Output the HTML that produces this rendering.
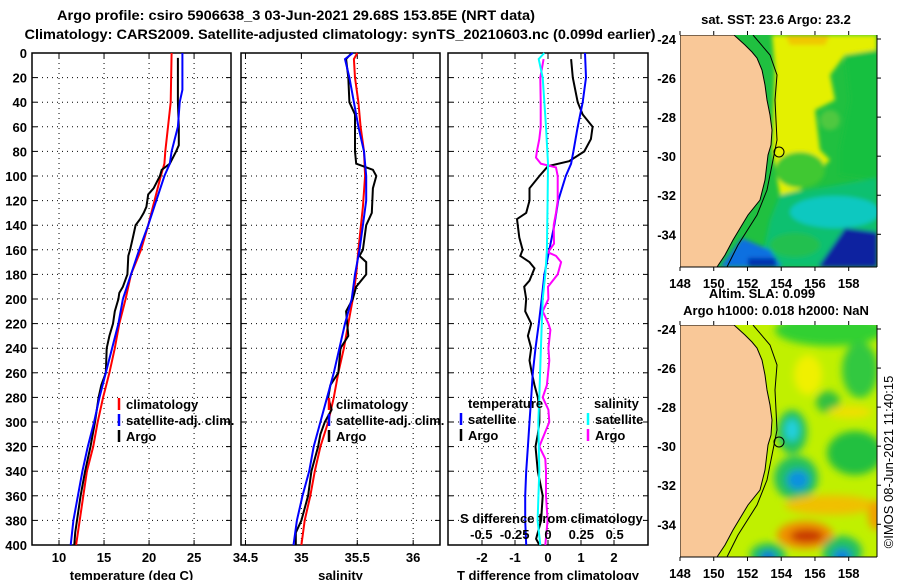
<!DOCTYPE html>
<html><head><meta charset="utf-8">
<style>
html,body{margin:0;padding:0;background:#fff;}
svg{display:block;font-family:"Liberation Sans",Arial,sans-serif;font-weight:bold;}
</style></head>
<body>
<svg id="fig" width="900" height="580" viewBox="0 0 900 580" xmlns="http://www.w3.org/2000/svg">
<defs>
<filter id="blur6" x="-30%" y="-30%" width="160%" height="160%"><feGaussianBlur stdDeviation="4"/></filter>
<filter id="blur3" x="-20%" y="-20%" width="140%" height="140%"><feGaussianBlur stdDeviation="2"/></filter>
<clipPath id="clipTop"><rect x="680" y="35" width="197" height="232"/></clipPath>
<clipPath id="clipBot"><rect x="680" y="325" width="197" height="232"/></clipPath>
</defs>
<text x="296" y="20" text-anchor="middle" font-size="14" textLength="478" lengthAdjust="spacingAndGlyphs">Argo profile: csiro 5906638_3 03-Jun-2021 29.68S 153.85E (NRT data)</text>
<text x="340" y="39" text-anchor="middle" font-size="14" textLength="631" lengthAdjust="spacingAndGlyphs">Climatology: CARS2009. Satellite-adjusted climatology: synTS_20210603.nc (0.099d earlier)</text>
<g id="charts"></g>
<g id="maps"></g>
</svg>
<script>
// ---------- data ----------
const depthTicks = [0,20,40,60,80,100,120,140,160,180,200,220,240,260,280,300,320,340,360,380,400];
const tTicks = [10,15,20,25];
const sTicks = [34.5,35,35.5,36];
const dTicks = [-2,-1,0,1,2];
const sdTicks = [-0.5,-0.25,0,0.25,0.5];
const sdTickLabels = ["-0.5","-0.25","0","0.25","0.5"];

const tClimDepth = [0,40,60,80,90,100,120,140,160,180,200,220,240,260,280,300,320,340,360,380,400];
const tClim = [22.5,22.4,22.1,21.8,21.7,21.3,20.6,19.9,19.1,18.0,17.4,16.7,16.2,15.6,14.9,14.3,13.8,13.1,12.7,12.3,11.9];
const tSatDepth = [0,30,40,60,80,90,100,120,140,160,180,200,220,240,260,280,300,320,340,360,380,400];
const tSat = [23.7,23.7,23.4,23.2,22.5,22.3,21.7,20.8,19.9,18.9,18.0,17.1,16.6,15.9,15.2,14.5,13.9,13.2,12.6,12.1,11.6,11.3];
const argoDepth = [4,40,60,75,80,90,95,100,110,115,125,130,135,140,150,160,165,180,190,195,200,210,220,230,240,260,270,280,300,320,340,360,380,390,400];
const tArgo = [23.2,23.2,23.3,23.3,23.0,22.3,21.4,21.2,20.5,19.9,19.7,19.4,19.0,18.5,18.2,17.9,17.7,17.6,17.1,16.7,16.6,16.2,16.0,15.6,15.3,15.2,14.7,14.4,14.0,13.5,12.9,12.4,12.0,11.8,11.7];

const sClimDepth = [0,5,20,40,60,80,100,125,160,180,200,220,240,260,280,300,320,340,360,380,400];
const sClim = [35.50,35.47,35.48,35.51,35.53,35.56,35.57,35.55,35.51,35.49,35.46,35.42,35.38,35.33,35.29,35.24,35.17,35.12,35.08,35.03,35.00];
const sSatDepth = [0,5,20,40,60,80,100,120,140,160,180,200,220,240,260,280,300,320,340,360,380,400];
const sSat = [35.46,35.39,35.43,35.47,35.51,35.56,35.58,35.58,35.55,35.52,35.48,35.45,35.39,35.34,35.29,35.23,35.17,35.11,35.07,35.01,34.96,34.93];
const sArgoDepth = [0,5,20,40,50,80,90,95,100,110,130,140,160,165,170,180,190,200,210,230,240,260,270,280,290,300,310,320,340,360,380,390,400];
const sArgo = [35.45,35.40,35.42,35.43,35.48,35.48,35.49,35.64,35.67,35.64,35.63,35.58,35.55,35.52,35.58,35.58,35.49,35.46,35.40,35.42,35.35,35.33,35.26,35.24,35.27,35.21,35.17,35.15,35.09,35.06,35.00,34.95,34.95];

const dtSatDepth = [0,20,40,60,80,90,100,120,140,160,180,200,220,240,260,280,300,320,340,360,380,400];
const dtSat = [1.12,1.15,1.05,0.9,0.77,0.7,0.54,0.31,0.19,0.04,-0.11,-0.19,-0.28,-0.38,-0.46,-0.51,-0.56,-0.61,-0.66,-0.69,-0.69,-0.66];
const dtArgoDepth = [5,20,40,50,60,70,80,88,92,100,110,120,130,135,150,160,165,170,175,185,190,200,210,220,230,240,250,260,270,280,290,300,310,320,340,360,380,395,400];
const dtArgo = [0.7,0.75,0.9,1.05,1.35,1.3,1.1,0.64,0,-0.26,-0.56,-0.56,-0.66,-0.94,-0.87,-0.77,-0.84,-0.56,-0.41,-0.56,-0.72,-0.66,-0.69,-0.51,-0.61,-0.51,-0.56,-0.49,-0.41,-0.31,-0.26,-0.26,-0.31,-0.38,-0.31,-0.16,-0.21,-0.36,-0.26];
const dsSatDepth = [0,5,20,60,90,120,160,180,200,240,280,300,340,380,400];
const dsSat = [-0.028,-0.07,-0.04,-0.015,0,-0.003,-0.008,-0.02,-0.04,-0.053,-0.065,-0.073,-0.065,-0.078,-0.058];
const dsArgoDepth = [5,20,40,60,70,80,85,90,93,100,120,130,140,155,162,165,170,180,190,200,210,220,225,240,250,270,280,290,300,310,320,330,340,360,380,400];
const dsArgo = [-0.033,-0.058,-0.055,-0.055,-0.065,-0.083,-0.09,-0.053,0.06,0.073,0.073,0.06,0.043,0.045,0,0.06,0.098,0.073,0,0.003,-0.04,0.003,0.018,0.003,0.01,-0.008,-0.04,0.003,0.01,-0.028,-0.065,-0.02,-0.015,-0.015,-0.003,-0.02];

// ---------- helpers ----------
const NS = "http://www.w3.org/2000/svg";
const charts = document.getElementById('charts');
function mk(tag, attrs, parent){const e=document.createElementNS(NS,tag);for(const k in attrs)e.setAttribute(k,attrs[k]);(parent||charts).appendChild(e);return e;}
const Y0=53, Y1=545;
const yD = d => Y0 + (d/400)*(Y1-Y0);
function lin(d0,d1,r0,r1){return v=>r0+(v-d0)/(d1-d0)*(r1-r0);}

const panels = [
 {x0:32,x1:231,dom:[7,29.1],ticks:tTicks,labels:tTicks.map(String),title:"temperature (deg C)",name:"temperature"},
 {x0:241,x1:440,dom:[34.46,36.24],ticks:sTicks,labels:["34.5","35","35.5","36"],title:"salinity",name:"salinity"},
 {x0:448,x1:648,dom:[-3.03,3.03],ticks:dTicks,labels:dTicks.map(String),title:"T difference from climatology",name:"difference"}
];
panels.forEach((p,i)=>{
 p.sx = lin(p.dom[0],p.dom[1],p.x0,p.x1);
 const g = mk('g',{});
 
 
 depthTicks.forEach(d=>{ if(d>0&&d<400){const l=mk('line',{x1:p.x0,x2:p.x1,y1:yD(d),y2:yD(d),stroke:'#000','stroke-width':1,'stroke-dasharray':'1,4'},g);
   }
   mk('line',{x1:p.x0,x2:p.x0+5,y1:yD(d),y2:yD(d),stroke:'#000'},g);
   mk('line',{x1:p.x1-5,x2:p.x1,y1:yD(d),y2:yD(d),stroke:'#000'},g);
 });
 p.ticks.forEach((t,j)=>{const x=p.sx(t);
   const l=mk('line',{x1:x,x2:x,y1:Y0,y2:Y1,stroke:'#000','stroke-width':1,'stroke-dasharray':'1,4'},g);
   
   mk('line',{x1:x,x2:x,y1:Y0,y2:Y0+5,stroke:'#000'},g);
   mk('line',{x1:x,x2:x,y1:Y1-5,y2:Y1,stroke:'#000'},g);
   const tx=mk('text',{x:x,y:562,'text-anchor':'middle','font-size':13},g);tx.textContent=p.labels[j];
   
 });
 const fr=mk('rect',{x:p.x0,y:Y0,width:p.x1-p.x0,height:Y1-Y0,fill:'none',stroke:'#000','stroke-width':1.5},g);
 
 const at=mk('text',{x:(p.x0+p.x1)/2,y:580,'text-anchor':'middle','font-size':13},g);at.textContent=p.title;
 
});
depthTicks.forEach(d=>{const t=mk('text',{x:27,y:yD(d)+5,'text-anchor':'end','font-size':13});t.textContent=String(d);
 });

function series(p,depths,vals,color,name,xf){
 const f = xf||p.sx;
 const pts = depths.map((d,i)=>f(vals[i]).toFixed(1)+','+yD(d).toFixed(1)).join(' ');
 const pl = mk('polyline',{points:pts,fill:'none',stroke:color,'stroke-width':2,'stroke-linejoin':'miter'});
 
 
}
const P1=panels[0],P2=panels[1],P3=panels[2];
series(P1,tClimDepth,tClim,'#f00','temp-climatology-line');
series(P1,argoDepth,tArgo,'#000','temp-argo-line');
series(P1,tSatDepth,tSat,'#00f','temp-satellite-line');
series(P2,sClimDepth,sClim,'#f00','sal-climatology-line');
series(P2,sArgoDepth,sArgo,'#000','sal-argo-line');
series(P2,sSatDepth,sSat,'#00f','sal-satellite-line');
const sdx = lin(-0.75,0.75,P3.x0,P3.x1);
series(P3,dtArgoDepth,dtArgo,'#000','tdiff-argo-line');
series(P3,dtSatDepth,dtSat,'#00f','tdiff-satellite-line');
series(P3,dsArgoDepth,dsArgo,'#f0f','sdiff-argo-line',sdx);
series(P3,dsSatDepth,dsSat,'#0ff','sdiff-satellite-line',sdx);

function legend(x,y,color,label,name){
 const g=mk('g',{});
 
 
 mk('line',{x1:x,x2:x,y1:y-11,y2:y+1,stroke:color,'stroke-width':2.5},g);
 const t=mk('text',{x:x+7,y:y,'font-size':13},g);t.textContent=label;
}
legend(119,409,'#f00','climatology','legend-climatology');
legend(119,425,'#00f','satellite-adj. clim.','legend-satellite-adj');
legend(119,441,'#000','Argo','legend-argo');
legend(329,409,'#f00','climatology','legend-sal-climatology');
legend(329,425,'#00f','satellite-adj. clim.','legend-sal-satellite-adj');
legend(329,441,'#000','Argo','legend-sal-argo');
{const t=mk('text',{x:468,y:408,'font-size':13});t.textContent='temperature';}
{const t=mk('text',{x:594,y:408,'font-size':13});t.textContent='salinity';}
legend(461,424,'#00f','satellite','legend-tdiff-satellite');
legend(461,440,'#000','Argo','legend-tdiff-argo');
legend(588,424,'#0ff','satellite','legend-sdiff-satellite');
legend(588,440,'#f0f','Argo','legend-sdiff-argo');
{const t=mk('text',{x:460,y:523,'font-size':13});t.textContent='S difference from climatology';}
sdTicks.forEach((s,i)=>{const t=mk('text',{x:sdx(s),y:539,'text-anchor':'middle','font-size':13});t.textContent=sdTickLabels[i];
 });

// ---------- maps ----------
const maps=document.getElementById('maps');
function m(tag,attrs,parent){const e=document.createElementNS(NS,tag);for(const k in attrs)e.setAttribute(k,attrs[k]);(parent||maps).appendChild(e);return e;}
const coast=[[734,35],[745,45],[752,52],[757,58],[762,70],[765,85],[767,100],[770,115],[772,130],[771,145],[768,155],[765,180],[760,200],[748,215],[733,240],[725,255],[717,267],[680,267],[680,35]];
const contour=[[753,35],[770,55],[777,75],[775,100],[777,140],[773,160],[767,190],[757,215],[738,245],[727,267]];
const latTicks=[-24,-26,-28,-30,-32,-34];
const lonTicks=[148,150,152,154,156,158];
function drawMap(top,kind){
 const g=m('g',{'clip-path':kind==='sst'?'url(#clipTop)':'url(#clipBot)'});
 
 
 const dy=top-35;
 const gg=m('g',{transform:'translate(0,'+dy+')'},g);
 if(kind==='sst'){
  m('rect',{x:680,y:35,width:197,height:232,fill:'#20c040'},gg);
  const b=m('g',{filter:'url(#blur3)'},gg);
  m('polygon',{points:'772,35 877,35 877,50 845,55 830,75 835,100 815,110 820,150 830,160 800,190 780,195 772,150 775,70',fill:'#e4f000'},b);
  m('polygon',{points:'785,35 830,35 825,45 790,45',fill:'#f0c800'},b);
  m('ellipse',{cx:830,cy:120,rx:10,ry:10,fill:'#50c840'},b);
  m('polygon',{points:'845,55 877,50 877,180 840,175 840,150 850,100',fill:'#18c040'},b);
  m('ellipse',{cx:800,cy:170,rx:25,ry:18,fill:'#40c830'},b);
  m('polygon',{points:'780,195 877,178 877,267 760,267 770,220',fill:'#10c070'},b);
  m('ellipse',{cx:835,cy:212,rx:45,ry:16,fill:'#10c8c0'},b);
  m('ellipse',{cx:795,cy:245,rx:25,ry:12,fill:'#20c050'},b);
  m('polygon',{points:'818,267 845,228 877,232 877,267',fill:'#0820a0'},b);
  m('polygon',{points:'720,267 742,238 770,250 782,267',fill:'#1070e0'},b);
  m('rect',{x:748,y:258,width:28,height:9,fill:'#0030b0'},b);
 } else {
  m('rect',{x:680,y:35,width:197,height:232,fill:'#c0f000'},gg);
  const b=m('g',{filter:'url(#blur6)'},gg);
  m('ellipse',{cx:830,cy:40,rx:55,ry:16,fill:'#30d030'},b);
  m('ellipse',{cx:860,cy:80,rx:18,ry:28,fill:'#30c840'},b);
  m('ellipse',{cx:828,cy:112,rx:12,ry:11,fill:'#30c040'},b);
  m('ellipse',{cx:808,cy:85,rx:14,ry:20,fill:'#f0f000'},b);
  m('ellipse',{cx:850,cy:122,rx:22,ry:6,fill:'#f0e000'},b);
  m('ellipse',{cx:792,cy:142,rx:15,ry:22,fill:'#20c060'},b);
  m('ellipse',{cx:792,cy:140,rx:7,ry:11,fill:'#20d0e0'},b);
  m('ellipse',{cx:796,cy:188,rx:22,ry:22,fill:'#20c060'},b);
  m('ellipse',{cx:798,cy:190,rx:11,ry:10,fill:'#1090e0'},b);
  m('ellipse',{cx:855,cy:163,rx:28,ry:22,fill:'#20c040'},b);
  m('ellipse',{cx:830,cy:215,rx:45,ry:10,fill:'#f0c000'},b);
  m('ellipse',{cx:805,cy:245,rx:28,ry:14,fill:'#f09000'},b);
  m('ellipse',{cx:807,cy:246,rx:17,ry:7,fill:'#c83800'},b);
  m('ellipse',{cx:876,cy:225,rx:8,ry:15,fill:'#f0a000'},b);
  m('ellipse',{cx:768,cy:265,rx:18,ry:12,fill:'#20c060'},b);
  m('ellipse',{cx:768,cy:267,rx:8,ry:6,fill:'#1070e0'},b);
  m('ellipse',{cx:842,cy:262,rx:20,ry:16,fill:'#20c060'},b);
  m('ellipse',{cx:842,cy:266,rx:9,ry:7,fill:'#1080e0'},b);
 }
 const land=m('polygon',{points:coast.map(p=>p.join(',')).join(' '),fill:'#f9c898',stroke:'#000','stroke-width':1},gg);
 
 m('polyline',{points:contour.map(p=>p.join(',')).join(' '),fill:'none',stroke:'#000','stroke-width':1},gg);
 const c=m('circle',{cx:779,cy:152,r:5,fill:'none',stroke:'#000','stroke-width':1},gg);
 
 const fg=m('g',{transform:'translate(0,'+dy+')'});
 m('line',{x1:680,x2:877,y1:267,y2:267,stroke:'#000'},fg);
 m('line',{x1:877,x2:877,y1:35,y2:267,stroke:'#000'},fg);
 latTicks.forEach(l=>{const y=39+(-24-l)*19.53;
  m('line',{x1:877,x2:881,y1:y,y2:y,stroke:'#000'},fg);
  const t=m('text',{x:676,y:y+5,'text-anchor':'end','font-size':13},fg);t.textContent=String(l);
  });
 lonTicks.forEach(l=>{const x=680+(l-148)*16.87;
  m('line',{x1:x,x2:x,y1:267,y2:271,stroke:'#000'},fg);m('line',{x1:x,x2:x,y1:35,y2:31,stroke:'#000'},fg);
  const t=m('text',{x:x,y:288,'text-anchor':'middle','font-size':13},fg);t.textContent=String(l);
  });
}
drawMap(35,'sst');
drawMap(325,'sla');
function lbl(x,y,s,name,extra){const t=m('text',Object.assign({x:x,y:y,'text-anchor':'middle','font-size':13},extra||{}));t.textContent=s;
 }
lbl(776,24,'sat. SST: 23.6 Argo: 23.2','sst-map-title');
lbl(762,298,'Altim. SLA: 0.099','sla-map-title');
lbl(776,315,'Argo h1000: 0.018 h2000: NaN','height-map-title');
lbl(893,462,'©IMOS 08-Jun-2021 11:40:15','imos-timestamp',{transform:'rotate(-90 893 462)','font-weight':'normal'});
</script>
</body></html>
